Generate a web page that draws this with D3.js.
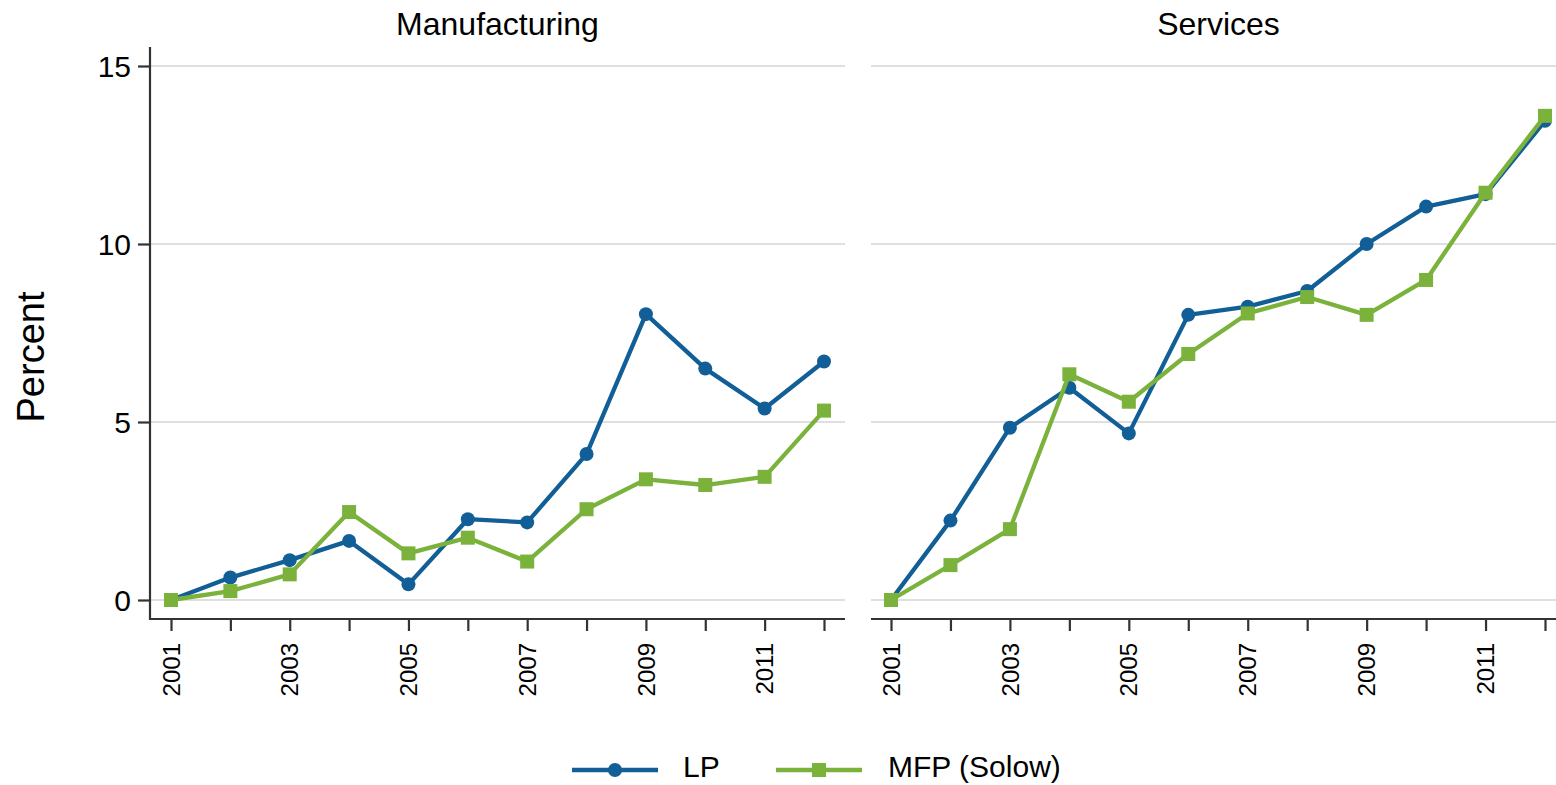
<!DOCTYPE html>
<html><head><meta charset="utf-8">
<script src="https://cdn.jsdelivr.net/npm/d3@7"></script>
<style>
html,body{margin:0;padding:0;background:#fff;}
text{font-family:"Liberation Sans",Arial,sans-serif;fill:#000;}
</style></head>
<body><svg id="c" width="1556" height="785"></svg>
<script>
const years = [2001,2002,2003,2004,2005,2006,2007,2008,2009,2010,2011,2012];
const panels = ["Manufacturing","Services"];
const seriesNames = ["LP","MFP (Solow)"];
const manufLP  = [0,0.63,1.12,1.66,0.44,2.27,2.18,4.10,8.03,6.50,5.38,6.70];
const manufMFP = [0,0.25,0.72,2.47,1.31,1.75,1.08,2.55,3.39,3.23,3.46,5.32];
const servLP   = [0,2.23,4.84,5.96,4.68,8.01,8.24,8.68,10.00,11.05,11.40,13.46];
const servMFP  = [0,0.98,1.99,6.34,5.57,6.91,8.05,8.51,8.01,8.99,11.44,13.60];
const yTicks = [0,5,10,15];
const xTickLabels = [2001,2003,2005,2007,2009,2011];

const colors = ["#125e97","#7ab23c"];
const svg = d3.select("#c");

const y = d3.scaleLinear().domain([0,15]).range([600,66]);
const yTop = 47, yBot = 619;
const panelDefs = [
  {name:panels[0], x0:150, x1:845, xr:[171,824], data:[manufLP,manufMFP], yaxis:true},
  {name:panels[1], x0:871, x1:1566, xr:[891,1545], data:[servLP,servMFP], yaxis:false}
];

panelDefs.forEach(p=>{
  const x = d3.scaleLinear().domain([2001,2012]).range(p.xr);
  const g = svg.append("g");
  g.selectAll(".grid").data(yTicks).join("line")
    .attr("x1",p.x0).attr("x2",p.x1).attr("y1",d=>y(d)).attr("y2",d=>y(d))
    .attr("stroke","#d4d4d4").attr("stroke-width",1.5);
  const xa = g.append("g").attr("transform",`translate(0,${yBot})`)
    .call(d3.axisBottom(x).tickValues(years).tickSize(12).tickFormat(""));
  xa.select(".domain").remove();
  xa.selectAll(".tick line").attr("stroke","#333").attr("stroke-width",2.2);
  g.append("line").attr("x1",p.x0).attr("x2",p.x1).attr("y1",yBot).attr("y2",yBot)
    .attr("stroke","#333").attr("stroke-width",2.2);
  g.selectAll(".xl").data(xTickLabels).join("text")
    .attr("transform",d=>`translate(${x(d)},643) rotate(-90)`)
    .attr("text-anchor","end").attr("dy","0.36em")
    .style("font-size","24px").text(d=>d);
  if(p.yaxis){
    const ya = g.append("g").attr("transform",`translate(${p.x0},0)`)
      .call(d3.axisLeft(y).tickValues(yTicks).tickSize(12).tickFormat(""));
    ya.select(".domain").remove();
    ya.selectAll(".tick line").attr("stroke","#333").attr("stroke-width",2.2);
    g.append("line").attr("x1",p.x0).attr("x2",p.x0).attr("y1",yTop).attr("y2",yBot+1)
      .attr("stroke","#333").attr("stroke-width",2.2);
    g.selectAll(".yl").data(yTicks).join("text")
      .attr("x",p.x0-19).attr("y",d=>y(d)).attr("dy","0.36em")
      .attr("text-anchor","end").style("font-size","30px").text(d=>d);
  }
  g.append("text").attr("x",(p.x0+p.x1)/2).attr("y",35).attr("text-anchor","middle")
    .style("font-size","32px").text(p.name);
  p.data.forEach((vals,si)=>{
    const pts = years.map((yr,i)=>[x(yr),y(vals[i])]);
    g.append("path").attr("d",d3.line()(pts)).attr("fill","none")
      .attr("stroke",colors[si]).attr("stroke-width",4.3).attr("stroke-linejoin","round");
    if(si===0){
      g.selectAll(null).data(pts).join("circle").attr("cx",d=>d[0]).attr("cy",d=>d[1])
        .attr("r",7).attr("fill",colors[si]);
    } else {
      g.selectAll(null).data(pts).join("rect").attr("x",d=>d[0]-7).attr("y",d=>d[1]-7)
        .attr("width",14).attr("height",14).attr("fill",colors[si]);
    }
  });
});

svg.append("text").attr("transform","translate(30,357) rotate(-90)")
  .attr("text-anchor","middle").attr("dy","0.36em").style("font-size","38px").text("Percent");

const leg = [{x0:572,x1:658,tx:683},{x0:776,x1:862,tx:888}];
leg.forEach((l,i)=>{
  const cy = 770, cx=(l.x0+l.x1)/2;
  svg.append("line").attr("x1",l.x0).attr("x2",l.x1).attr("y1",cy).attr("y2",cy)
    .attr("stroke",colors[i]).attr("stroke-width",4.3);
  if(i===0) svg.append("circle").attr("cx",cx).attr("cy",cy).attr("r",7).attr("fill",colors[i]);
  else svg.append("rect").attr("x",cx-7).attr("y",cy-7).attr("width",14).attr("height",14).attr("fill",colors[i]);
  svg.append("text").attr("x",l.tx).attr("y",777).style("font-size","30px").text(seriesNames[i]);
});
</script></body></html>
